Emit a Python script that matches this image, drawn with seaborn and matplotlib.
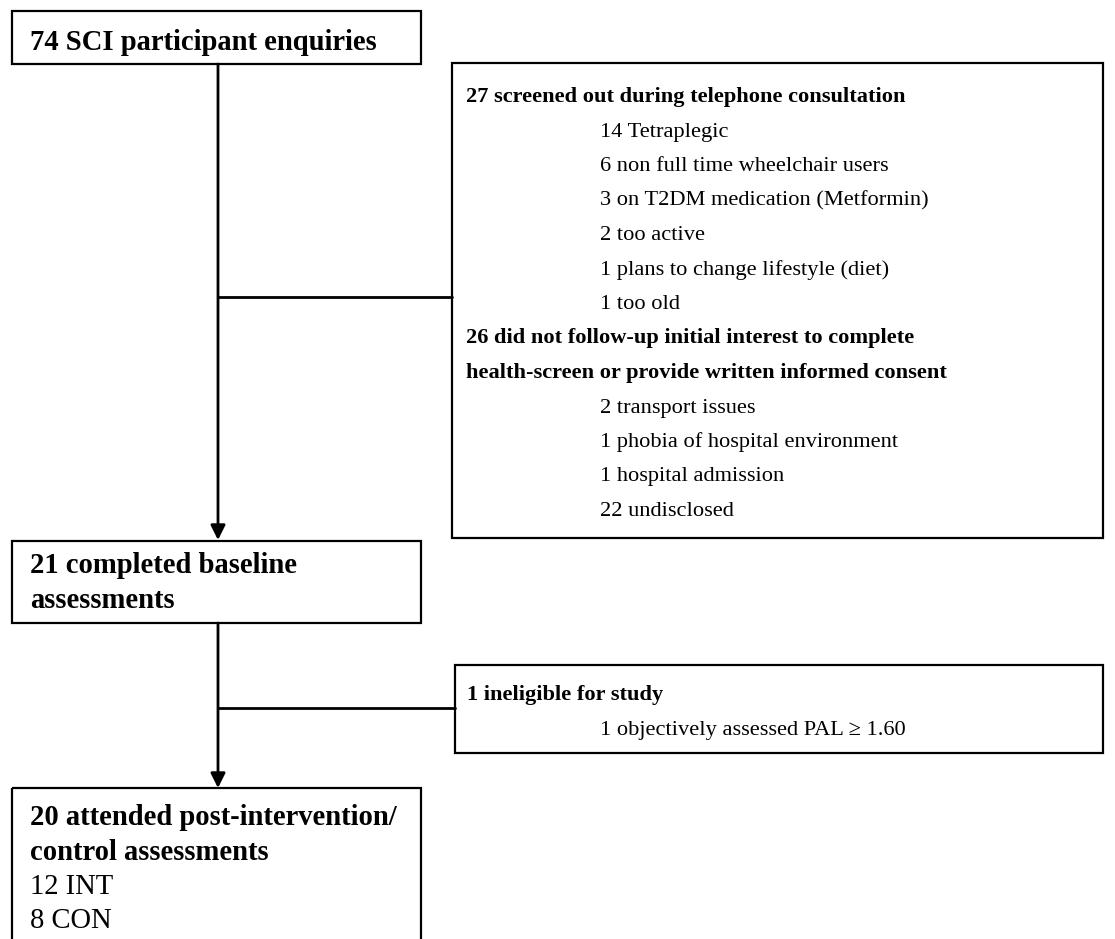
import seaborn as sns
from matplotlib import pyplot as plt
from matplotlib.patches import Rectangle

sns.set_theme(style="white")
plt.rcParams['font.family'] = ['Liberation Serif', 'DejaVu Serif']
plt.rcParams['text.color'] = 'black'

# flow chart content
enquiries = "74 SCI participant enquiries"
screened_title = "27 screened out during telephone consultation"
screened_items = ["14 Tetraplegic",
                  "6 non full time wheelchair users",
                  "3 on T2DM medication (Metformin)",
                  "2 too active",
                  "1 plans to change lifestyle (diet)",
                  "1 too old"]
nofollow_title = ["26 did not follow-up initial interest to complete",
                  "health-screen or provide written informed consent"]
nofollow_items = ["2 transport issues",
                  "1 phobia of hospital environment",
                  "1 hospital admission",
                  "22 undisclosed"]
baseline_lines = ["21 completed baseline", "assessments"]
inelig_title = "1 ineligible for study"
inelig_items = ["1 objectively assessed PAL \u2265 1.60"]
post_lines = ["20 attended post-intervention/", "control assessments"]
post_groups = ["12 INT", "8 CON"]

W, H = 1115, 939
fig = plt.figure(figsize=(W / 100, H / 100), dpi=100)
ax = fig.add_axes([0, 0, 1, 1])
ax.set_xlim(0, W)
ax.set_ylim(H, 0)
ax.axis('off')

LW = 1.6
BIG = 20.6
SMALL = 16.1
STEP = 34.5


def box(x0, y0, x1, y1):
    ax.add_patch(Rectangle((x0, y0), x1 - x0, y1 - y0, fill=False,
                           edgecolor='black', lw=LW, clip_on=True))


def arrow(x, y0, y1):
    ax.annotate('', xy=(x, y1), xytext=(x, y0),
                arrowprops=dict(arrowstyle='-|>', lw=LW + 0.4, color='black',
                                mutation_scale=22, shrinkA=0, shrinkB=0))


# left column boxes
box(12, 11, 421, 64)
ax.text(30, 50, enquiries, fontsize=BIG, fontweight='bold', va='baseline')

box(12, 541, 421, 623)
for i, t in enumerate(baseline_lines):
    ax.text(30, 573 + i * STEP, t, fontsize=BIG, fontweight='bold', va='baseline')

box(12, 788, 421, 990)
for i, t in enumerate(post_lines):
    ax.text(30, 825 + i * STEP, t, fontsize=BIG, fontweight='bold', va='baseline')
for i, t in enumerate(post_groups):
    ax.text(30, 825 + (i + 2) * STEP, t, fontsize=BIG, va='baseline')

# arrows and connectors
arrow(218, 64, 540)
ax.plot([218, 452], [297, 297], color='black', lw=LW + 0.4)
arrow(218, 623, 788)
ax.plot([218, 455], [708, 708], color='black', lw=LW + 0.4)

# exclusion box 1
box(452, 63, 1103, 538)
y = 102
ax.text(466, y, screened_title, fontsize=SMALL, fontweight='bold', va='baseline')
for t in screened_items:
    y += STEP
    ax.text(600, y, t, fontsize=SMALL, va='baseline')
for t in nofollow_title:
    y += STEP
    ax.text(466, y, t, fontsize=SMALL, fontweight='bold', va='baseline')
for t in nofollow_items:
    y += STEP
    ax.text(600, y, t, fontsize=SMALL, va='baseline')

# exclusion box 2
box(455, 665, 1103, 753)
ax.text(467, 700, inelig_title, fontsize=SMALL, fontweight='bold', va='baseline')
for i, t in enumerate(inelig_items):
    ax.text(600, 735 + i * STEP, t, fontsize=SMALL, va='baseline')

fig.savefig("out.png", dpi=100, facecolor='white')
